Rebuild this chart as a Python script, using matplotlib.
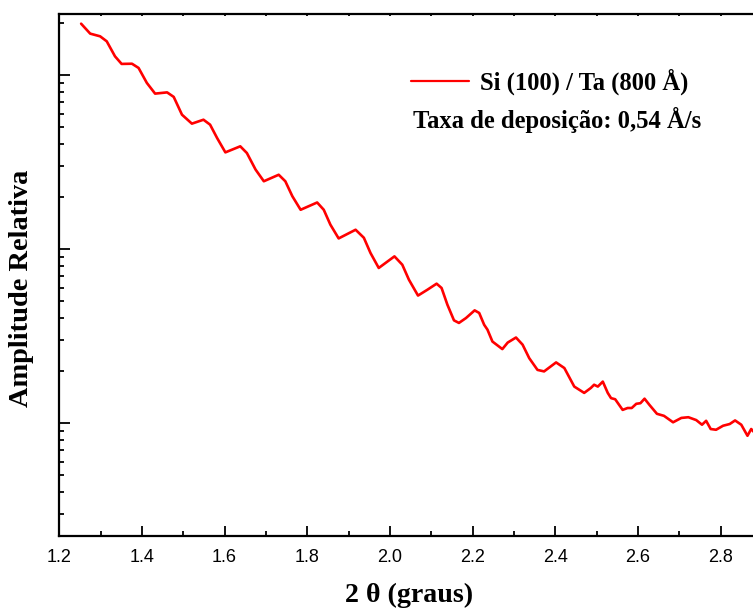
import matplotlib
matplotlib.use("Agg")
import matplotlib.pyplot as plt
from matplotlib.ticker import MultipleLocator, NullFormatter, FormatStrFormatter, LogLocator

# Reflectivity scan: Si(100) / Ta (800 Å)
theta2 = [1.253, 1.275, 1.299, 1.315, 1.335, 1.351, 1.376, 1.392, 1.412, 1.432,
          1.461, 1.477, 1.497, 1.521, 1.549, 1.565, 1.582, 1.602, 1.638, 1.654,
          1.675, 1.695, 1.731, 1.747, 1.764, 1.784, 1.824, 1.840, 1.856, 1.876,
          1.917, 1.937, 1.953, 1.973, 2.011, 2.030, 2.046, 2.068, 2.091, 2.113,
          2.125, 2.139, 2.155, 2.167, 2.184, 2.205, 2.216, 2.228, 2.236, 2.248,
          2.272, 2.285, 2.305, 2.321, 2.337, 2.357, 2.373, 2.402, 2.422, 2.446,
          2.470, 2.486, 2.494, 2.503, 2.515, 2.527, 2.535, 2.545, 2.563, 2.575,
          2.585, 2.596, 2.606, 2.616, 2.628, 2.646, 2.663, 2.685, 2.705, 2.722,
          2.741, 2.755, 2.765, 2.776, 2.789, 2.806, 2.822, 2.835, 2.850, 2.865,
          2.874, 2.882]
amplitude = [197.0, 172.7, 166.7, 156.0, 127.9, 115.7, 116.0, 109.7, 90.0, 78.1,
             79.4, 74.8, 59.1, 52.5, 55.3, 51.8, 43.4, 35.9, 38.9, 35.6,
             28.6, 24.5, 26.7, 24.5, 20.1, 16.8, 18.5, 16.8, 13.8, 11.5,
             12.9, 11.6, 9.49, 7.78, 9.07, 8.12, 6.66, 5.40, 5.84, 6.32,
             5.97, 4.79, 3.89, 3.76, 4.01, 4.44, 4.29, 3.67, 3.44, 2.94,
             2.66, 2.90, 3.10, 2.82, 2.36, 2.02, 1.98, 2.23, 2.07, 1.62,
             1.49, 1.59, 1.66, 1.62, 1.73, 1.49, 1.39, 1.37, 1.19, 1.22,
             1.22, 1.29, 1.30, 1.38, 1.27, 1.13, 1.10, 1.01, 1.07, 1.08,
             1.04, 0.978, 1.03, 0.924, 0.915, 0.965, 0.987, 1.035, 0.978, 0.845,
             0.924, 0.88]

series_label = "Si (100) / Ta (800 Å)"
note_text = "Taxa de deposição: 0,54 Å/s"
x_label = "2 θ (graus)"
y_label = "Amplitude Relativa"

W, H = 753, 611
fig = plt.figure(figsize=(W / 100, H / 100), dpi=100)
ax = fig.add_axes([59.2 / W, 1 - 536 / H, 1 - 59.2 / W + 0.002, (536 - 13.5) / H])

serif = "Liberation Serif"
sans = "Liberation Sans"

line, = ax.plot(theta2, amplitude, color="#ff0000", lw=1.9,
                solid_joinstyle="round", solid_capstyle="round")

ax.set_yscale("log")
ax.set_xlim(1.2, 2.882)
ax.set_ylim(10 ** -0.649, 10 ** 2.353)

ax.xaxis.set_major_locator(MultipleLocator(0.2))
ax.xaxis.set_minor_locator(MultipleLocator(0.1))
ax.xaxis.set_major_formatter(FormatStrFormatter("%.1f"))
ax.yaxis.set_major_locator(LogLocator(base=10))
ax.yaxis.set_minor_locator(LogLocator(base=10, subs=range(2, 10)))
ax.yaxis.set_major_formatter(NullFormatter())
ax.yaxis.set_minor_formatter(NullFormatter())

for side in ("left", "bottom", "top"):
    ax.spines[side].set_linewidth(1.6)
ax.spines["right"].set_visible(False)

ax.tick_params(axis="x", which="major", direction="in", length=7.5, width=1.3,
               labelsize=13, pad=9, top=True)
ax.tick_params(axis="x", which="minor", direction="in", length=3.8, width=1.3, top=True)
ax.tick_params(axis="y", which="major", direction="in", length=7.8, width=1.3)
ax.tick_params(axis="y", which="minor", direction="in", length=3.8, width=1.3)
for t in ax.get_xticklabels():
    t.set_fontfamily(sans)

# shorter ticks along the top edge
for tk in ax.xaxis.get_major_ticks() + ax.xaxis.get_minor_ticks():
    tk.tick2line.set_markersize(1.5)

ax.set_xlabel(x_label, fontsize=20.2, fontweight="bold", fontfamily=serif)
ax.xaxis.set_label_coords(409 / W, 1 - 583 / H, transform=fig.transFigure)
ax.set_ylabel(y_label, fontsize=20.4, fontweight="bold", fontfamily=serif)
ax.yaxis.set_label_coords(34 / W, 1 - 288 / H, transform=fig.transFigure)

leg = ax.legend([line], [series_label], loc="center left",
                bbox_to_anchor=(411 / W, 1 - 82 / H), bbox_transform=fig.transFigure,
                frameon=False, borderpad=0, borderaxespad=0, handlelength=2.35,
                handletextpad=0.45, prop={"family": serif, "weight": "bold", "size": 17.7})
leg.get_lines()[0].set_linewidth(1.6)

fig.text(413 / W, 1 - 128 / H, note_text, fontsize=17.7, fontweight="bold",
         fontfamily=serif, ha="left", va="baseline")

fig.savefig("out.png", dpi=100)
